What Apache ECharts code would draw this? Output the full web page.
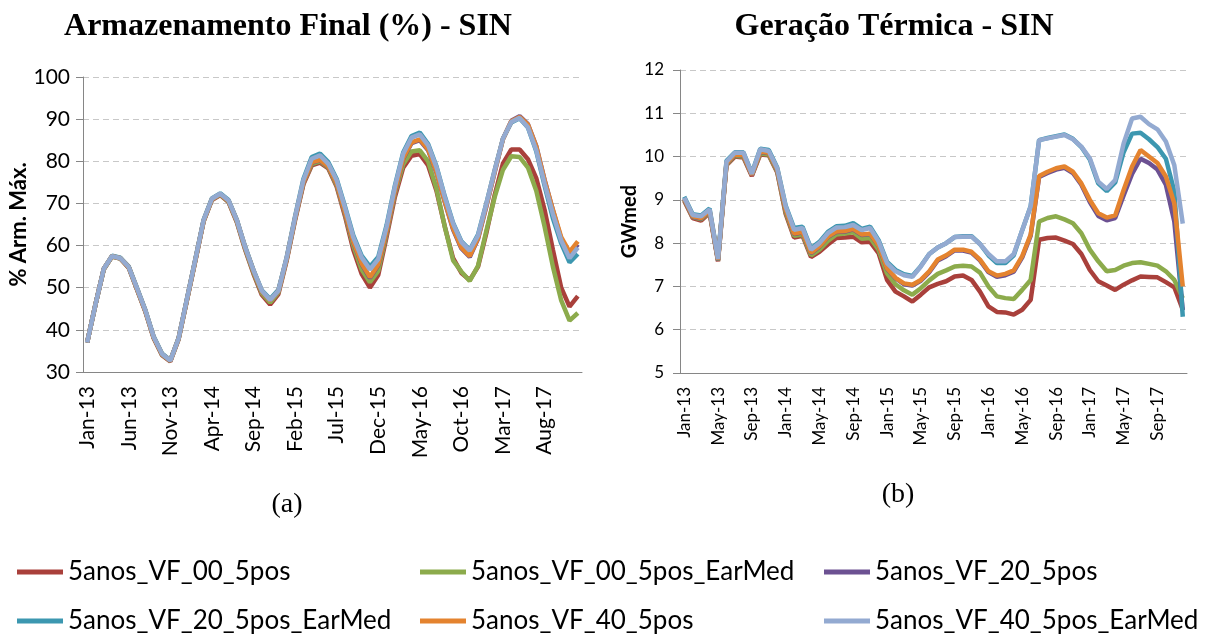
<!DOCTYPE html>
<html>
<head>
<meta charset="utf-8">
<script src="https://cdn.jsdelivr.net/npm/echarts@6/dist/echarts.min.js"></script>
<style>
  html, body { margin: 0; padding: 0; background: #fff; }
  #chart { width: 1208px; height: 636px; }
</style>
</head>
<body>
<div id="chart"></div>
<script>
// categorias mensais Jan-13 .. Dec-17
const months = ['Jan', 'Feb', 'Mar', 'Apr', 'May', 'Jun', 'Jul', 'Aug', 'Sep', 'Oct', 'Nov', 'Dec'];
const years = ['13', '14', '15', '16', '17'];
const categories = [];
years.forEach(y => months.forEach(m => categories.push(m + '-' + y)));

const seriesNames = [
  '5anos_VF_00_5pos', '5anos_VF_00_5pos_EarMed', '5anos_VF_20_5pos',
  '5anos_VF_20_5pos_EarMed', '5anos_VF_40_5pos', '5anos_VF_40_5pos_EarMed'
];
const colors = ['#A9403B', '#8CAB4C', '#6C5192', '#3C97B0', '#E4832F', '#93AAD1'];

/* (a) Armazenamento Final (%) */
const armVF00 = [37, 46, 54.4, 57.4, 56.9, 54.7, 49.5, 44.3, 38, 34, 32.5, 37.8, 47, 56.3, 65.7, 70.8, 72, 70.3, 65.5, 59,
  53.3, 48.3, 46, 48.5, 56.5, 66, 74.5, 79, 79.7, 78.3, 74, 67, 59, 53.3, 50, 53, 62, 71.5, 78.5, 81.3,
  81.7, 79, 73, 64.5, 57, 53.5, 51.8, 55, 63, 72, 79.5, 82.8, 82.8, 80.5, 76, 68.5, 59, 50, 45.5, 48];
const armVF00Ear = [37, 46, 54.4, 57.4, 56.9, 54.8, 49.6, 44.4, 38.1, 34.1, 32.6, 37.9, 47.1, 56.4, 65.8, 70.9, 72.1, 70.4, 65.7, 59.2,
  53.6, 48.7, 46.5, 48.9, 56.8, 66.3, 74.8, 79.3, 80, 78.5, 74.3, 67.5, 60, 54.3, 51.3, 54, 62.8, 72.3, 79.3, 82.3,
  82.6, 80, 73.5, 64.5, 56.5, 53.8, 51.6, 55.2, 63.5, 71.5, 78, 81.2, 81, 78.5, 73, 64.5, 55, 47, 42.2, 44];
const armVF20 = [37, 46, 54.5, 57.5, 57, 54.9, 49.7, 44.5, 38.2, 34.2, 32.7, 38, 47.2, 56.5, 65.9, 71, 72.2, 70.6, 65.9, 59.5,
  54, 49.1, 47, 49.2, 57, 66.5, 74.9, 79.7, 80.2, 78.7, 74.7, 67.8, 60.8, 55.6, 52.3, 55.3, 63.3, 72.8, 80.6, 84.3,
  85, 82.6, 77.3, 70.3, 63.8, 59.3, 57.3, 61.6, 69.3, 77.4, 85.3, 89.6, 90.7, 88.8, 83.6, 75.6, 68.4, 61.6, 57.8, 60.3];
const armVF20Ear = [37, 46, 54.5, 57.6, 57.1, 55, 49.9, 44.7, 38.4, 34.4, 32.8, 38.1, 47.4, 56.7, 66.1, 71.2, 72.4, 70.8, 66.1, 59.7,
  54.2, 49.4, 47.3, 49.5, 57.3, 66.9, 75.8, 81, 81.8, 79.8, 75.8, 69.3, 62.4, 57.6, 55, 57.3, 64.8, 74.2, 82.1, 86,
  86.8, 84.1, 78.8, 71.7, 65.4, 61, 59, 62.6, 70, 77.9, 85.4, 89.2, 90.2, 88, 82.4, 74.2, 66.5, 60.5, 56, 58];
const armVF40 = [37, 46, 54.5, 57.5, 57, 54.9, 49.7, 44.5, 38.2, 34.2, 32.7, 38, 47.2, 56.5, 65.9, 71, 72.2, 70.6, 65.9, 59.5,
  54, 49.1, 47, 49.2, 57, 66.5, 75, 79.8, 80.3, 78.8, 74.8, 68, 61, 55.8, 52.5, 55.5, 63.5, 73, 80.8, 84.5,
  85.2, 82.8, 77.5, 70.5, 64, 59.5, 57.5, 61.8, 69.5, 77.5, 85.3, 89.5, 90.5, 88.7, 83.5, 75.5, 68.5, 62, 58.5, 61];
const armVF40Ear = [37, 46, 54.5, 57.5, 57, 54.9, 49.8, 44.6, 38.3, 34.3, 32.7, 38, 47.3, 56.6, 66, 71.1, 72.3, 70.7, 66, 59.6,
  54.1, 49.3, 47.1, 49.3, 57.2, 66.7, 75.5, 80.6, 81.4, 79.4, 75.5, 69, 62, 57.2, 54.3, 56.8, 64.4, 73.9, 81.8, 85.6,
  86.4, 83.8, 78.6, 71.5, 65.2, 60.8, 58.8, 62.4, 69.9, 77.8, 85.4, 89.3, 90.3, 88.1, 82.6, 74.7, 67.5, 61.2, 57, 59.5];

/* (b) Geração Térmica (GWmed) */
const gerVF00 = [8.98, 8.58, 8.52, 8.7, 7.58, 9.8, 10.0, 9.98, 9.55, 10.05, 10.03, 9.64, 8.68, 8.13, 8.17, 7.68, 7.8, 7.97, 8.12, 8.13,
  8.15, 8.02, 8.03, 7.77, 7.15, 6.88, 6.77, 6.65, 6.81, 6.98, 7.06, 7.12, 7.23, 7.25, 7.15, 6.88, 6.54, 6.41, 6.4, 6.35,
  6.46, 6.69, 8.08, 8.12, 8.13, 8.06, 7.98, 7.75, 7.38, 7.12, 7.02, 6.92, 7.04, 7.14, 7.23, 7.22, 7.21, 7.1, 6.98, 6.46];
const gerVF00Ear = [9.0, 8.6, 8.55, 8.72, 7.6, 9.82, 10.02, 10.0, 9.57, 10.07, 10.05, 9.66, 8.72, 8.17, 8.2, 7.72, 7.85, 8.05, 8.2, 8.22,
  8.25, 8.1, 8.12, 7.85, 7.3, 7.05, 6.91, 6.81, 6.96, 7.14, 7.29, 7.37, 7.46, 7.48, 7.46, 7.32, 7.0, 6.77, 6.73, 6.71,
  6.92, 7.15, 8.5, 8.58, 8.62, 8.55, 8.46, 8.23, 7.85, 7.58, 7.35, 7.38, 7.48, 7.54, 7.56, 7.52, 7.48, 7.35, 7.15, 6.73];
const gerVF20 = [9.02, 8.61, 8.57, 8.74, 7.61, 9.84, 10.04, 10.03, 9.57, 10.11, 10.08, 9.69, 8.77, 8.21, 8.25, 7.77, 7.92, 8.14, 8.26, 8.27,
  8.32, 8.19, 8.21, 7.94, 7.41, 7.19, 7.05, 7.02, 7.13, 7.33, 7.6, 7.7, 7.83, 7.83, 7.78, 7.6, 7.33, 7.22, 7.26, 7.34,
  7.67, 8.17, 9.53, 9.62, 9.7, 9.74, 9.62, 9.35, 8.95, 8.63, 8.53, 8.58, 9.1, 9.6, 9.95, 9.85, 9.7, 9.35, 8.5, 6.45];
const gerVF20Ear = [9.07, 8.67, 8.64, 8.8, 7.65, 9.9, 10.1, 10.1, 9.62, 10.18, 10.15, 9.75, 8.87, 8.35, 8.38, 7.88, 8.03, 8.26, 8.39, 8.4,
  8.46, 8.33, 8.38, 8.07, 7.57, 7.38, 7.28, 7.24, 7.47, 7.75, 7.9, 8.0, 8.14, 8.16, 8.16, 7.98, 7.72, 7.54, 7.54, 7.72,
  8.3, 8.85, 10.38, 10.43, 10.47, 10.51, 10.41, 10.22, 9.93, 9.38, 9.2, 9.4, 10.1, 10.53, 10.55, 10.4, 10.22, 9.95, 9.2, 6.3];
const gerVF40 = [9.03, 8.62, 8.58, 8.75, 7.62, 9.85, 10.05, 10.04, 9.58, 10.12, 10.09, 9.7, 8.78, 8.22, 8.26, 7.78, 7.93, 8.15, 8.27, 8.28,
  8.33, 8.2, 8.22, 7.95, 7.42, 7.2, 7.07, 7.04, 7.15, 7.35, 7.62, 7.72, 7.85, 7.85, 7.8, 7.62, 7.35, 7.25, 7.29, 7.37,
  7.7, 8.2, 9.55, 9.65, 9.73, 9.77, 9.65, 9.38, 9.0, 8.69, 8.59, 8.64, 9.23, 9.77, 10.15, 10.0, 9.85, 9.54, 8.92, 7.0];
const gerVF40Ear = [9.05, 8.65, 8.62, 8.78, 7.63, 9.88, 10.09, 10.09, 9.6, 10.17, 10.13, 9.73, 8.85, 8.31, 8.35, 7.85, 8.0, 8.23, 8.36, 8.37,
  8.42, 8.3, 8.35, 8.04, 7.54, 7.35, 7.26, 7.22, 7.46, 7.75, 7.9, 8.0, 8.14, 8.15, 8.15, 7.98, 7.75, 7.58, 7.58, 7.75,
  8.3, 8.85, 10.38, 10.42, 10.46, 10.5, 10.4, 10.23, 9.96, 9.42, 9.25, 9.46, 10.3, 10.88, 10.92, 10.75, 10.63, 10.35, 9.8, 8.45];

const armData = [armVF00, armVF00Ear, armVF20, armVF20Ear, armVF40, armVF40Ear];
const gerData = [gerVF00, gerVF00Ear, gerVF20, gerVF20Ear, gerVF40, gerVF40Ear];

const axisGrey = '#868686';
const gridGrey = '#C8C8C8';
const labelFont = 'Lato, "Open Sans", sans-serif';
const serifFont = '"Liberation Serif", "Times New Roman", serif';

const chart = echarts.init(document.getElementById('chart'));

const makeSeries = (data, axisIdx) => data.map((d, i) => ({
  name: seriesNames[i],
  type: 'line',
  xAxisIndex: axisIdx,
  yAxisIndex: axisIdx,
  data: d,
  symbol: 'none',
  lineStyle: {width: 4.5, color: colors[i]},
  itemStyle: {color: colors[i]},
  z: 2 + i
}))

const xAxisBase = (grid, step, fontSize) => ({
  gridIndex: grid,
  type: 'category',
  data: categories,
  boundaryGap: true,
  axisLine: {lineStyle: {color: axisGrey, width: 1}},
  axisTick: {interval: step, length: 6, lineStyle: {color: axisGrey}},
  axisLabel: {interval: step, rotate: 90, margin: 14, fontFamily: labelFont, fontSize: fontSize, color: '#000'},
  splitLine: {show: false}
})

const yAxisBase = (grid, min, max, step, name, fontSize, nameSize, nameGap, margin) => ({
  gridIndex: grid,
  type: 'value',
  min: min,
  max: max,
  interval: step,
  name: name,
  nameLocation: 'middle',
  nameRotate: 90,
  nameGap: nameGap,
  nameTextStyle: {fontFamily: labelFont, fontWeight: 'bold', fontSize: nameSize, color: '#000'},
  axisLine: {show: true, lineStyle: {color: axisGrey, width: 1}},
  axisTick: {show: true, length: 7, lineStyle: {color: axisGrey}},
  axisLabel: {margin: margin, fontFamily: labelFont, fontSize: fontSize, color: '#000'},
  splitLine: {show: true, lineStyle: {type: [6, 4], color: gridGrey, width: 1}}
})

/* uma legenda por item, em grade 3 x 2 */
const legendCols = [17, 420, 824];
const legendRows = [558, 607];
const legends = seriesNames.map((name, k) => ({
  left: legendCols[k % 3],
  top: legendRows[Math.floor(k / 3)],
  padding: 0,
  data: [name],
  icon: 'rect',
  itemWidth: 46,
  itemHeight: 5,
  textStyle: {fontFamily: labelFont, fontSize: 26, lineHeight: 28, color: '#000'}
}))

chart.setOption({
  animation: false,
  backgroundColor: '#fff',
  graphic: [
    {type: 'text', x: 288, y: 27, style: {text: 'Armazenamento Final (%) - SIN', font: 'bold 32px ' + serifFont, fill: '#000', align: 'center', verticalAlign: 'middle'}},
    {type: 'text', x: 894, y: 27, style: {text: 'Geração Térmica - SIN', font: 'bold 32px ' + serifFont, fill: '#000', align: 'center', verticalAlign: 'middle'}},
    {type: 'text', x: 287, y: 505, style: {text: '(a)', font: '28px ' + serifFont, fill: '#000', align: 'center', verticalAlign: 'middle'}},
    {type: 'text', x: 898, y: 495, style: {text: '(b)', font: '28px ' + serifFont, fill: '#000', align: 'center', verticalAlign: 'middle'}}
  ],
  legend: legends,
  grid: [
    {left: 83, top: 77, width: 499, height: 295},
    {left: 680, top: 70, width: 507, height: 303}
  ],
  xAxis: [xAxisBase(0, 4, 21), xAxisBase(1, 3, 17)],
  yAxis: [
    yAxisBase(0, 30, 100, 10, '% Arm. Máx.', 21, 22, 50, 13),
    yAxisBase(1, 5, 12, 1, 'GWmed', 17, 20, 40, 16)
  ],
  series: [...makeSeries(armData, 0), ...makeSeries(gerData, 1)]
})

window.addEventListener('resize', () => chart.resize())
</script>
</body>
</html>
